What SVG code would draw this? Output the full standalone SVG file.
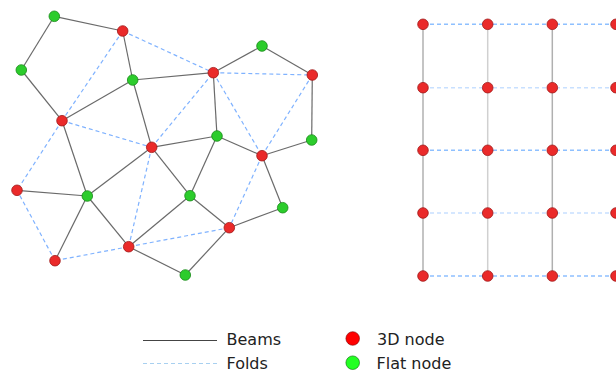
<svg xmlns="http://www.w3.org/2000/svg" width="616" height="372" viewBox="0 0 616 372">
<style>
.beam{stroke:#6a6a6a;stroke-width:1.2;fill:none}
.fold{stroke:#7fb2ff;stroke-width:1.2;stroke-dasharray:4 3;fill:none}
.gb{stroke:#b0b0b0;stroke-width:1.5}
.gb2{stroke:#d0d0d0;stroke-width:1.5}
.gf{stroke:#8ec0ff;stroke-width:1.5;stroke-dasharray:4 3}
.gf2{stroke:#c8e0ff;stroke-width:1.5;stroke-dasharray:4 3}
.r{fill:#ea2a2a;stroke:#a01818;stroke-width:0.8}
.g{fill:#2ccc2c;stroke:#188a18;stroke-width:0.8}
.lr{fill:#ff0000;stroke:#700;stroke-width:0.6}
.lg{fill:#22ff22;stroke:#060;stroke-width:0.6}
text{font-family:"DejaVu Sans",sans-serif;font-size:16px;fill:#222}
</style>
<g id="connectors">
<!-- folds -->
<line class="fold" x1="122.7" y1="31" x2="213.3" y2="72.7"/>
<line class="fold" x1="122.7" y1="31" x2="62" y2="120.7"/>
<line class="fold" x1="62" y1="120.7" x2="17" y2="190.3"/>
<line class="fold" x1="62" y1="120.7" x2="151.7" y2="147.3"/>
<line class="fold" x1="151.7" y1="147.3" x2="213.3" y2="72.7"/>
<line class="fold" x1="151.7" y1="147.3" x2="128.7" y2="246.7"/>
<line class="fold" x1="213.3" y1="72.7" x2="312.3" y2="75"/>
<line class="fold" x1="213.3" y1="72.7" x2="262" y2="155.7"/>
<line class="fold" x1="312.3" y1="75" x2="262" y2="155.7"/>
<line class="fold" x1="262" y1="155.7" x2="229.3" y2="227.7"/>
<line class="fold" x1="229.3" y1="227.7" x2="128.7" y2="246.7"/>
<line class="fold" x1="128.7" y1="246.7" x2="55" y2="260.7"/>
<line class="fold" x1="55" y1="260.7" x2="17" y2="190.3"/>
<!-- beams -->
<line class="beam" x1="54.3" y1="16.3" x2="122.7" y2="31"/>
<line class="beam" x1="54.3" y1="16.3" x2="21.3" y2="70"/>
<line class="beam" x1="21.3" y1="70" x2="62" y2="120.7"/>
<line class="beam" x1="122.7" y1="31" x2="132.7" y2="80"/>
<line class="beam" x1="132.7" y1="80" x2="62" y2="120.7"/>
<line class="beam" x1="132.7" y1="80" x2="213.3" y2="72.7"/>
<line class="beam" x1="132.7" y1="80" x2="151.7" y2="147.3"/>
<line class="beam" x1="213.3" y1="72.7" x2="262" y2="46"/>
<line class="beam" x1="262" y1="46" x2="312.3" y2="75"/>
<line class="beam" x1="312.3" y1="75" x2="311.7" y2="140"/>
<line class="beam" x1="311.7" y1="140" x2="262" y2="155.7"/>
<line class="beam" x1="213.3" y1="72.7" x2="217" y2="136"/>
<line class="beam" x1="217" y1="136" x2="151.7" y2="147.3"/>
<line class="beam" x1="217" y1="136" x2="262" y2="155.7"/>
<line class="beam" x1="217" y1="136" x2="190" y2="195.7"/>
<line class="beam" x1="262" y1="155.7" x2="282.7" y2="207.7"/>
<line class="beam" x1="282.7" y1="207.7" x2="229.3" y2="227.7"/>
<line class="beam" x1="190" y1="195.7" x2="229.3" y2="227.7"/>
<line class="beam" x1="151.7" y1="147.3" x2="190" y2="195.7"/>
<line class="beam" x1="151.7" y1="147.3" x2="87.3" y2="196"/>
<line class="beam" x1="62" y1="120.7" x2="87.3" y2="196"/>
<line class="beam" x1="17" y1="190.3" x2="87.3" y2="196"/>
<line class="beam" x1="87.3" y1="196" x2="55" y2="260.7"/>
<line class="beam" x1="87.3" y1="196" x2="128.7" y2="246.7"/>
<line class="beam" x1="190" y1="195.7" x2="128.7" y2="246.7"/>
<line class="beam" x1="128.7" y1="246.7" x2="185.3" y2="275"/>
<line class="beam" x1="229.3" y1="227.7" x2="185.3" y2="275"/>
<!-- grid -->
<line class="gb" x1="423" y1="24.3" x2="423" y2="276"/>
<line class="gb2" x1="487.7" y1="24.3" x2="487.7" y2="276"/>
<line class="gb" x1="552.3" y1="24.3" x2="552.3" y2="276"/>
<line class="gf" x1="423" y1="24.3" x2="616" y2="24.3"/>
<line class="gf2" x1="423" y1="87.7" x2="616" y2="87.7"/>
<line class="gf" x1="423" y1="150.3" x2="616" y2="150.3"/>
<line class="gf2" x1="423" y1="213" x2="616" y2="213"/>
<line class="gf" x1="423" y1="276" x2="616" y2="276"/>
</g>
<g id="nodes-green">
<circle id="g1" class="g" cx="54.3" cy="16.3" r="5.3"/>
<circle id="g2" class="g" cx="21.3" cy="70" r="5.3"/>
<circle id="g3" class="g" cx="132.7" cy="80" r="5.3"/>
<circle id="g4" class="g" cx="262" cy="46" r="5.3"/>
<circle id="g5" class="g" cx="217" cy="136" r="5.3"/>
<circle id="g6" class="g" cx="311.7" cy="140" r="5.3"/>
<circle id="g7" class="g" cx="87.3" cy="196" r="5.3"/>
<circle id="g8" class="g" cx="190" cy="195.7" r="5.3"/>
<circle id="g9" class="g" cx="282.7" cy="207.7" r="5.3"/>
<circle id="g10" class="g" cx="185.3" cy="275" r="5.3"/>
</g>
<g id="nodes-red">
<circle id="r1" class="r" cx="122.7" cy="31" r="5.3"/>
<circle id="r2" class="r" cx="213.3" cy="72.7" r="5.3"/>
<circle id="r3" class="r" cx="312.3" cy="75" r="5.3"/>
<circle id="r4" class="r" cx="62" cy="120.7" r="5.3"/>
<circle id="r5" class="r" cx="151.7" cy="147.3" r="5.3"/>
<circle id="r6" class="r" cx="262" cy="155.7" r="5.3"/>
<circle id="r7" class="r" cx="17" cy="190.3" r="5.3"/>
<circle id="r8" class="r" cx="229.3" cy="227.7" r="5.3"/>
<circle id="r9" class="r" cx="128.7" cy="246.7" r="5.3"/>
<circle id="r10" class="r" cx="55" cy="260.7" r="5.3"/>
</g>
<g id="grid-nodes">
<circle class="r" cx="423" cy="24.3" r="5.3"/><circle class="r" cx="487.7" cy="24.3" r="5.3"/><circle class="r" cx="552.3" cy="24.3" r="5.3"/><circle class="r" cx="616" cy="24.3" r="5.3"/>
<circle class="r" cx="423" cy="87.7" r="5.3"/><circle class="r" cx="487.7" cy="87.7" r="5.3"/><circle class="r" cx="552.3" cy="87.7" r="5.3"/><circle class="r" cx="616" cy="87.7" r="5.3"/>
<circle class="r" cx="423" cy="150.3" r="5.3"/><circle class="r" cx="487.7" cy="150.3" r="5.3"/><circle class="r" cx="552.3" cy="150.3" r="5.3"/><circle class="r" cx="616" cy="150.3" r="5.3"/>
<circle class="r" cx="423" cy="213" r="5.3"/><circle class="r" cx="487.7" cy="213" r="5.3"/><circle class="r" cx="552.3" cy="213" r="5.3"/><circle class="r" cx="616" cy="213" r="5.3"/>
<circle class="r" cx="423" cy="276" r="5.3"/><circle class="r" cx="487.7" cy="276" r="5.3"/><circle class="r" cx="552.3" cy="276" r="5.3"/><circle class="r" cx="616" cy="276" r="5.3"/>
</g>
<g id="legend">
<line x1="143" y1="340.5" x2="217" y2="340.5" stroke="#444" stroke-width="1"/>
<text x="226.5" y="344.5">Beams</text>
<line x1="143" y1="363.5" x2="217" y2="363.5" stroke="#a8d0f0" stroke-width="1" stroke-dasharray="4 3"/>
<text x="226.5" y="368.5">Folds</text>
<circle class="lr" cx="352.7" cy="338.5" r="6.8"/>
<text x="377" y="344.5">3D node</text>
<circle class="lg" cx="352.7" cy="362.7" r="6.8"/>
<text x="376.5" y="368.5">Flat node</text>
</g>
</svg>
